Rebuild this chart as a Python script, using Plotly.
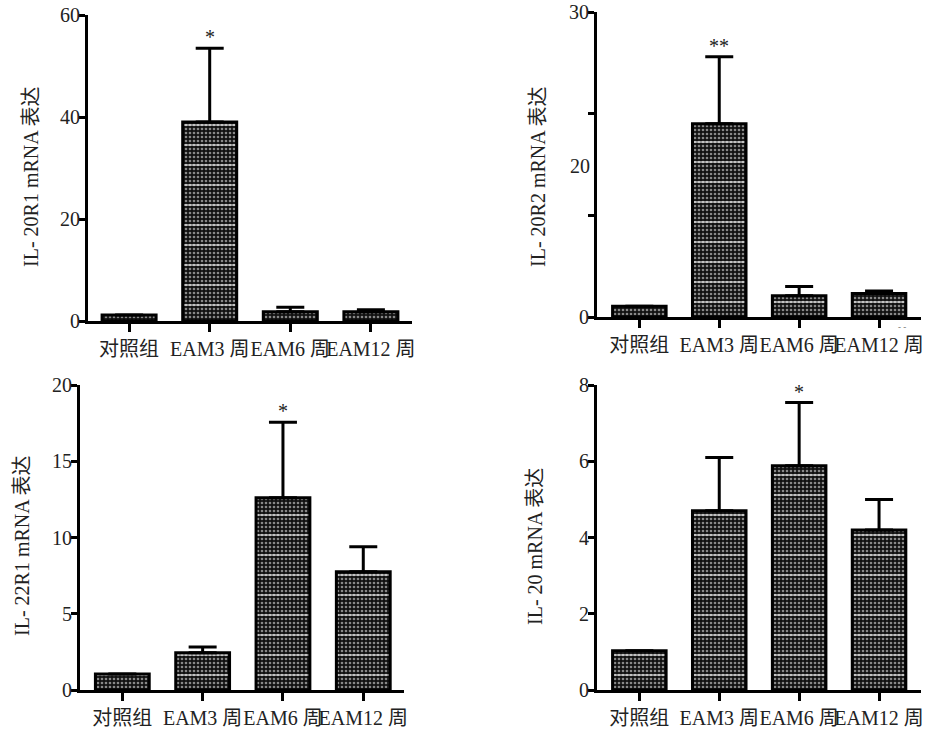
import plotly.graph_objects as go

categories = ["对照组", "EAM3 周", "EAM6 周", "EAM12 周"]

il20r1_mean = [1.2, 39.0, 1.8, 1.8]
il20r1_err = [0.0, 14.5, 0.9, 0.4]
il20r1_sig = ["", "*", "", ""]

il20r2_mean = [1.05, 19.0, 2.1, 2.3]
il20r2_err = [0.0, 6.6, 0.9, 0.25]
il20r2_sig = ["", "**", "", ""]

il22r1_mean = [1.05, 2.45, 12.6, 7.75]
il22r1_err = [0.0, 0.37, 4.95, 1.65]
il22r1_sig = ["", "", "*", ""]

il20_mean = [1.03, 4.7, 5.88, 4.2]
il20_err = [0.0, 1.4, 1.66, 0.8]
il20_sig = ["", "", "*", ""]

W, H = 927, 729
SERIF = "'Liberation Serif', 'Noto Sans CJK SC', serif"

panels = [
    dict(mean=il20r1_mean, err=il20r1_err, sig=il20r1_sig, ymax=60, ticks=[0, 20, 40, 60],
         ticktext=["0", "20", "40", "60"], title="IL- 20R1 mRNA 表达",
         px=(88, 412), py=(15, 321), xr=(-0.51, 3.51), tpos=(31, 177)),
    dict(mean=il20r2_mean, err=il20r2_err, sig=il20r2_sig, ymax=30, ticks=[0, 10, 20, 30],
         ticktext=["0", "", "", "30"], title="IL- 20R2 mRNA 表达",
         px=(597, 921), py=(12, 317), xr=(-0.53, 3.525), tpos=(538, 177)),
    dict(mean=il22r1_mean, err=il22r1_err, sig=il22r1_sig, ymax=20, ticks=[0, 5, 10, 15, 20],
         ticktext=["0", "5", "10", "15", "20"], title="IL- 22R1 mRNA 表达",
         px=(80, 404), py=(385, 690), xr=(-0.527, 3.507), tpos=(22, 546)),
    dict(mean=il20_mean, err=il20_err, sig=il20_sig, ymax=8, ticks=[0, 2, 4, 6, 8],
         ticktext=["0", "2", "4", "6", "8"], title="IL- 20 mRNA 表达",
         px=(597, 921), py=(385, 690), xr=(-0.53, 3.525), tpos=(535, 547)),
]

fig = go.Figure()
annotations = []
xs = list(range(len(categories)))

for i, p in enumerate(panels):
    n = "" if i == 0 else str(i + 1)
    xa, ya = "x" + n, "y" + n
    # dotted fill
    fig.add_trace(go.Bar(
        x=xs, y=p["mean"], width=0.67, xaxis=xa, yaxis=ya, showlegend=False,
        marker=dict(color="#111", line=dict(width=0),
                    pattern=dict(shape=".", fgcolor="white", bgcolor="#111",
                                 size=4, solidity=0.35)),
        hoverinfo="skip"))
    # white stripes + outline + error bars
    fig.add_trace(go.Bar(
        x=xs, y=p["mean"], width=0.67, xaxis=xa, yaxis=ya, showlegend=False,
        marker=dict(color="rgba(0,0,0,0)", line=dict(width=3, color="black"),
                    pattern=dict(shape="-", fgcolor="white", bgcolor="rgba(0,0,0,0)",
                                 size=20, solidity=0.1)),
        error_y=dict(type="data", array=p["err"], arrayminus=[0] * 4, symmetric=False,
                     color="black", thickness=3, width=14, visible=True),
        hoverinfo="skip"))
    x0, x1 = p["px"]
    y0, y1 = p["py"]
    fig.layout["xaxis" + n] = dict(
        domain=[x0 / W, x1 / W], anchor=ya, range=list(p["xr"]),
        tickvals=xs, ticktext=categories, tickangle=0, automargin=False,
        showline=True, linewidth=3, linecolor="black",
        ticks="outside", ticklen=8, tickwidth=2.5, tickcolor="black",
        tickfont=dict(family=SERIF, size=20, color="#222"), showgrid=False, zeroline=False,
        fixedrange=True)
    fig.layout["yaxis" + n] = dict(
        domain=[1 - y1 / H, 1 - y0 / H], anchor=xa, range=[0, p["ymax"]],
        tickvals=p["ticks"], ticktext=p["ticktext"], automargin=False,
        showline=True, linewidth=3, ticklabelstandoff=-5,
        linecolor="black", ticks="outside", ticklen=6, tickwidth=2.5, tickcolor="black",
        tickfont=dict(family=SERIF, size=20, color="#222"), showgrid=False, zeroline=False,
        fixedrange=True)
    annotations.append(dict(
        text=p["title"], xref="paper", yref="paper", x=p["tpos"][0] / W,
        y=1 - p["tpos"][1] / H, xanchor="center", yanchor="middle", textangle=-90,
        showarrow=False, font=dict(family=SERIF, size=20, color="#222")))
    for j, s in enumerate(p["sig"]):
        if s:
            annotations.append(dict(
                text=s, x=j, y=p["mean"][j] + p["err"][j], xref=xa, yref=ya,
                xanchor="center", yanchor="bottom", yshift=-2, showarrow=False,
                font=dict(family=SERIF, size=20, color="#222")))

# misplaced "20" label on the IL-20R2 axis, as in the original figure
annotations.append(dict(text="20", xref="paper", yref="paper", x=592 / W, y=1 - 166 / H,
                        xanchor="right", yanchor="middle", showarrow=False,
                        font=dict(family=SERIF, size=20, color="#222")))
annotations.append(dict(text="- -", xref="paper", yref="paper", x=902 / W, y=1 - 327 / H,
                        xanchor="center", yanchor="middle", showarrow=False,
                        font=dict(family=SERIF, size=9, color="#666")))

fig.update_layout(
    width=W, height=H, margin=dict(l=0, r=0, t=0, b=0), barmode="overlay",
    plot_bgcolor="white", paper_bgcolor="white", annotations=annotations,
    showlegend=False)

fig.write_html("out.html", config={"displayModeBar": False},
               post_script="document.body.style.margin='0';document.body.style.overflow='hidden';")
